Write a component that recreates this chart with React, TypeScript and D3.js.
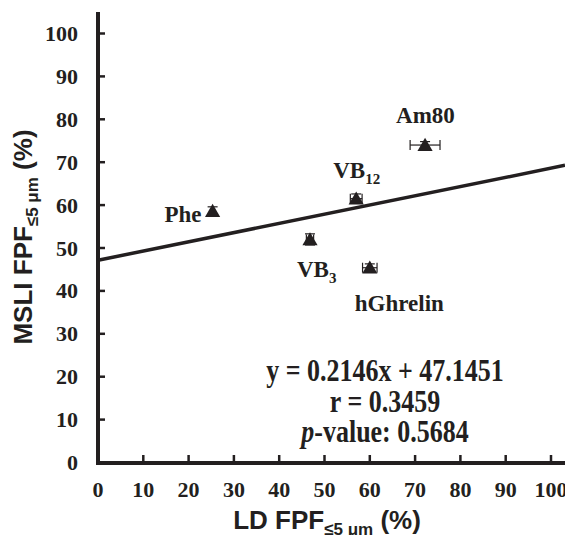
import React, { useEffect, useRef } from 'react';
import * as d3 from 'd3';

const names = ['Phe', 'VB3', 'VB12', 'hGhrelin', 'Am80'];
const ldFpf = [25.3, 46.8, 57.0, 60.0, 72.2];
const msliFpf = [58.6, 52.0, 61.5, 45.4, 74.0];
const xErr = [0, 0.8, 1.3, 1.6, 3.3];
const yErr = [1.0, 1.3, 1.1, 0.9, 0.8];
const ticks = [0, 10, 20, 30, 40, 50, 60, 70, 80, 90, 100];
const slope = 0.2146;
const intercept = 47.1451;
const statLines = ['y = 0.2146x + 47.1451', 'r = 0.3459', 'p-value: 0.5684'];

const serif = '"Liberation Serif", "Times New Roman", serif';
const sans = '"Liberation Sans", Arial, sans-serif';
const ink = '#231f20';

const App = () => {
    const ref = useRef<SVGSVGElement>(null);

    useEffect(() => {
        const svg = d3.select(ref.current);
        svg.selectAll('*').remove();

        const x = d3.scaleLinear().domain([0, 100]).range([98, 551]);
        const y = d3.scaleLinear().domain([0, 100]).range([462.5, 33.5]);
        const xMax = x.invert(565);

        // axes
        svg.append('line').attr('x1', 98).attr('x2', 98).attr('y1', 12).attr('y2', 465)
            .attr('stroke', ink).attr('stroke-width', 4);
        svg.append('line').attr('x1', 96).attr('x2', 565).attr('y1', 463).attr('y2', 463)
            .attr('stroke', ink).attr('stroke-width', 4);

        svg.selectAll('.ytick').data(ticks.slice(1)).enter().append('line')
            .attr('x1', 98).attr('x2', 105).attr('y1', d => y(d)).attr('y2', d => y(d))
            .attr('stroke', ink).attr('stroke-width', 2.5);
        svg.selectAll('.xtick').data(ticks.slice(1)).enter().append('line')
            .attr('x1', d => x(d)).attr('x2', d => x(d)).attr('y1', 463).attr('y2', 455)
            .attr('stroke', ink).attr('stroke-width', 2.5);

        svg.selectAll('.ylab').data(ticks).enter().append('text')
            .attr('x', 78).attr('y', d => y(d) + 7.5)
            .attr('text-anchor', 'end')
            .attr('font-family', serif).attr('font-weight', 'bold').attr('font-size', 22)
            .attr('fill', ink)
            .text(d => d);
        svg.selectAll('.xlab').data(ticks).enter().append('text')
            .attr('x', d => x(d)).attr('y', 497)
            .attr('text-anchor', 'middle')
            .attr('font-family', serif).attr('font-weight', 'bold').attr('font-size', 22)
            .attr('fill', ink)
            .text(d => d);

        // axis titles
        const yt = svg.append('text')
            .attr('transform', 'translate(32,237) rotate(-90)')
            .attr('text-anchor', 'middle')
            .attr('font-family', sans).attr('font-weight', 'bold').attr('font-size', 26)
            .attr('fill', ink);
        yt.append('tspan').text('MSLI FPF');
        yt.append('tspan').attr('font-size', 17).attr('dy', 6).text('≤5 μm');
        yt.append('tspan').attr('dy', -6).text(' (%)');

        const xt = svg.append('text')
            .attr('x', 327).attr('y', 529)
            .attr('text-anchor', 'middle')
            .attr('font-family', sans).attr('font-weight', 'bold').attr('font-size', 26)
            .attr('fill', ink);
        xt.append('tspan').text('LD FPF');
        xt.append('tspan').attr('font-size', 17).attr('dy', 6).text('≤5 μm');
        xt.append('tspan').attr('dy', -6).text(' (%)');

        // regression line
        svg.append('line')
            .attr('x1', x(0)).attr('y1', y(intercept))
            .attr('x2', x(xMax)).attr('y2', y(slope * xMax + intercept))
            .attr('stroke', ink).attr('stroke-width', 3.5);

        const data = names.map((n, i) => ({ n, x: ldFpf[i], y: msliFpf[i], ex: xErr[i], ey: yErr[i] }));

        // error bars
        const eb = svg.append('g').attr('stroke', ink).attr('stroke-width', 1.2);
        data.forEach(d => {
            if (d.ex > 0) {
                eb.append('line').attr('x1', x(d.x - d.ex)).attr('x2', x(d.x + d.ex))
                    .attr('y1', y(d.y)).attr('y2', y(d.y));
                [d.x - d.ex, d.x + d.ex].forEach(v => {
                    eb.append('line').attr('x1', x(v)).attr('x2', x(v))
                        .attr('y1', y(d.y) - 5).attr('y2', y(d.y) + 5);
                });
            }
            eb.append('line').attr('x1', x(d.x)).attr('x2', x(d.x))
                .attr('y1', y(d.y - d.ey)).attr('y2', y(d.y + d.ey));
            [d.y - d.ey, d.y + d.ey].forEach(v => {
                eb.append('line').attr('x1', x(d.x) - 5).attr('x2', x(d.x) + 5)
                    .attr('y1', y(v)).attr('y2', y(v));
            });
        });

        // triangles
        const tri = d3.symbol().type(d3.symbolTriangle).size(100);
        svg.selectAll('.pt').data(data).enter().append('path')
            .attr('d', tri)
            .attr('transform', d => `translate(${x(d.x)},${y(d.y) + 1.5})`)
            .attr('fill', ink);

        // point labels
        const lab = (tx: number, ty: number, anchor: string, main: string, sub?: string) => {
            const t = svg.append('text')
                .attr('x', tx).attr('y', ty).attr('text-anchor', anchor)
                .attr('font-family', serif).attr('font-weight', 'bold').attr('font-size', 23)
                .attr('fill', ink);
            t.append('tspan').text(main);
            if (sub) t.append('tspan').attr('font-size', 15).attr('dy', 6).text(sub);
        };
        lab(x(ldFpf[0]) - 11, y(msliFpf[0]) + 11, 'end', 'Phe');
        lab(x(ldFpf[1]) - 13, y(msliFpf[1]) + 38, 'start', 'VB', '3');
        lab(x(ldFpf[2]) - 23, y(msliFpf[2]) - 21, 'start', 'VB', '12');
        lab(x(ldFpf[3]) - 15, y(msliFpf[3]) + 43, 'start', 'hGhrelin');
        lab(x(ldFpf[4]) - 29, y(msliFpf[4]) - 22, 'start', 'Am80');

        // stats (text in the reference is slightly taller than wide)
        const st = svg.append('g')
            .attr('transform', 'translate(385,381) scale(1,1.2)')
            .attr('font-family', serif).attr('font-weight', 'bold').attr('font-size', 26)
            .attr('fill', ink).attr('text-anchor', 'middle');
        st.append('text').attr('x', 0).attr('y', 0).text(statLines[0]);
        st.append('text').attr('x', 0).attr('y', 31 / 1.2).text(statLines[1]);
        const p = st.append('text').attr('x', 0).attr('y', 61 / 1.2);
        p.append('tspan').attr('font-style', 'italic').text(statLines[2].slice(0, 1));
        p.append('tspan').text(statLines[2].slice(1));
    }, []);

    return (
        <svg ref={ref} width={565} height={535}
            style={{ position: 'absolute', left: 0, top: 0, background: '#fff' }} />
    );
};

export default App;
